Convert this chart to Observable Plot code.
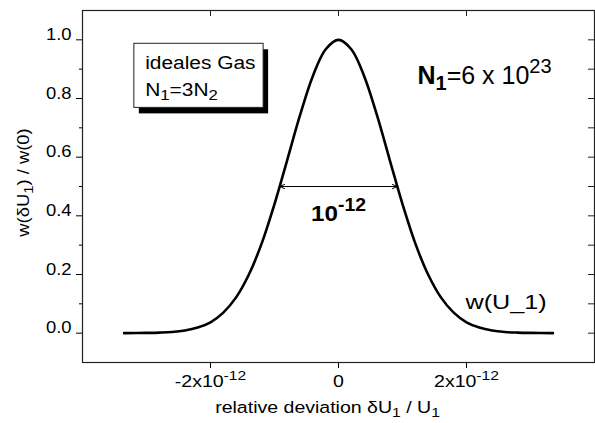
<!DOCTYPE html>
<html><head><meta charset="utf-8">
<script src="https://cdn.jsdelivr.net/npm/d3@7"></script>
<script src="https://cdn.jsdelivr.net/npm/@observablehq/plot@0.6"></script>
<style>
html,body{margin:0;padding:0;background:#fff;}
</style>
</head><body><div id="chart"></div>
<script>
// relative deviation δU1/U1 (in units of 10^-12) and w(δU1)/w(0)
const deviation = [-3.35,-3.0,-2.8,-2.6,-2.4,-2.2,-2.0,-1.8,-1.6,-1.4,-1.2,-1.0,-0.8,-0.6,-0.4,-0.2,0,0.2,0.4,0.6,0.8,1.0,1.2,1.4,1.6,1.8,2.0,2.2,2.4,2.6,2.8,3.0,3.35];
const wRatio = [0.000,0.001,0.002,0.004,0.009,0.019,0.037,0.070,0.122,0.200,0.306,0.440,0.591,0.744,0.877,0.968,1.000,0.968,0.877,0.744,0.591,0.440,0.306,0.200,0.122,0.070,0.037,0.019,0.009,0.004,0.002,0.001,0.000];
const xTickValues = [-2,0,2];
const xTickLabels = ["-2x10^{-12}","0","2x10^{-12}"];
const yTickValues = [0,0.2,0.4,0.6,0.8,1.0];
const yTickLabels = ["0.0","0.2","0.4","0.6","0.8","1.0"];
const yMinorTicks = [0.1,0.3,0.5,0.7,0.9];
const halfWidth = 0.92;
const halfLevel = 0.5;
const widthLabel = "*{10^{-12}}";
const boxLine1 = "ideales Gas";
const boxLine2 = "N_{1}=3N_{2}";
const sizeLabel = "*{N_{1}}=6 x 10^{23}";
const curveLabel = "w(U_1)";
const xTitle = "relative deviation δU_{1} / U_{1}";
const yTitle = "w(δU_{1}) / w(0)";

const data = deviation.map((x, i) => ({x, y: wRatio[i]}));
const arrows = [{x1: 0, x2: -halfWidth, y: halfLevel}, {x1: 0, x2: halfWidth, y: halfLevel}];
const shX = 5 / 64, shY = 6 / 293.33;

const plot = Plot.plot({
  width: 595, height: 423,
  marginLeft: 82, marginRight: 1, marginTop: 10, marginBottom: 61,
  x: {domain: [-4, 4]},
  y: {domain: [-0.1, 1.1]},
  style: {fontFamily: '"Liberation Sans", Arial, sans-serif', fontSize: "16px", color: "#000", background: "#fff"},
  marks: [
    Plot.frame({stroke: "#222", strokeWidth: 1.2}),
    Plot.axisX({ticks: xTickValues, anchor: "bottom", tickSize: 6, tickPadding: 18, tickFormat: d => xTickLabels[xTickValues.indexOf(d)], label: null, fontSize: 17}),
    Plot.axisY({ticks: yTickValues, anchor: "left", tickSize: 6, tickPadding: 5, tickFormat: d => yTickLabels[yTickValues.indexOf(d)], label: null, fontSize: 16}),
    Plot.axisY({ticks: yMinorTicks, anchor: "left", tickSize: 3, tickFormat: () => "", label: null}),
    Plot.tickX(xTickValues, {x: d => d, insetBottom: 346, stroke: "#222"}),
    Plot.tickY([...yTickValues, ...yMinorTicks], {y: d => d, insetLeft: 506, stroke: "#222"}),
    Plot.line(data, {x: "x", y: "y", stroke: "#000", strokeWidth: 2.6, curve: "catmull-rom"}),
    Plot.arrow(arrows, {x1: "x1", x2: "x2", y1: "y", y2: "y", stroke: "#000", strokeWidth: 1, headLength: 8, headAngle: 45}),
    Plot.text([widthLabel], {x: 0, y: 0.384, text: d => d, fontSize: 22, lineAnchor: "bottom", fill: "#000"}),
    // legend box with shadow
    Plot.rect([0], {x1: -3.19 + shX, x2: -1.17 + shX, y1: 0.768 - shY, y2: 0.9865 - shY, fill: "#000"}),
    Plot.rect([0], {x1: -3.19, x2: -1.17, y1: 0.768, y2: 0.9865, fill: "#fff", stroke: "#222", strokeWidth: 1}),
    Plot.text([boxLine1], {x: -3.02, y: 0.899, text: d => d, fontSize: 19, textAnchor: "start", lineAnchor: "bottom", fill: "#000"}),
    Plot.text([boxLine2], {x: -3.02, y: 0.810, text: d => d, fontSize: 19, textAnchor: "start", lineAnchor: "bottom", fill: "#000"}),
    Plot.text([sizeLabel], {x: 1.234, y: 0.851, text: d => d, fontSize: 25, textAnchor: "start", lineAnchor: "bottom", fill: "#000"}),
    Plot.text([curveLabel], {x: 1.984, y: 0.081, text: d => d, fontSize: 21, textAnchor: "start", lineAnchor: "bottom", fill: "#000"}),
    Plot.text([xTitle], {frameAnchor: "bottom", dy: 50, dx: -11, text: d => d, fontSize: 17, textAnchor: "middle", lineAnchor: "bottom", fill: "#000"}),
    Plot.text([yTitle], {frameAnchor: "left", dx: -54, dy: -4, rotate: -90, text: d => d, fontSize: 16, textAnchor: "middle", lineAnchor: "middle", fill: "#000"})
  ]
});
document.getElementById("chart").append(plot);

const SVGNS = "http://www.w3.org/2000/svg";
const stretchOf = new Map([[sizeLabel, 1.0], [widthLabel, 1.1], [boxLine1, 1.1], [boxLine2, 1.1], [curveLabel, 1.2], [xTitle, 1.15]]);

function parseRich(s, bold = false, level = 0) {
  const out = []; let i = 0, buf = "";
  const flush = () => { if (buf) { out.push({t: buf, bold, level}); buf = ""; } };
  while (i < s.length) {
    const c = s[i];
    if ((c === "^" || c === "_" || c === "*") && s[i + 1] === "{") {
      flush();
      let depth = 0, j = i + 1;
      for (; j < s.length; j++) { if (s[j] === "{") depth++; else if (s[j] === "}") { depth--; if (depth === 0) break; } }
      const inner = s.slice(i + 2, j);
      if (c === "*") out.push(...parseRich(inner, true, level));
      else out.push(...parseRich(inner, bold, c === "^" ? level + 1 : level - 1));
      i = j + 1;
    } else { buf += c; i++; }
  }
  flush();
  return out;
}
function richify(svg) {
  svg.querySelectorAll("text").forEach(t => {
    const s = t.textContent;
    if (!/[\^_*]\{/.test(s)) return;
    const fs = parseFloat(getComputedStyle(t).fontSize) || 16;
    const segs = parseRich(s);
    while (t.firstChild) t.removeChild(t.firstChild);
    let cur = 0;
    segs.forEach(sg => {
      const ts = document.createElementNS(SVGNS, "tspan");
      const target = sg.level > 0 ? -0.42 * fs : sg.level < 0 ? 0.24 * fs : 0;
      if (target !== cur) ts.setAttribute("dy", (target - cur).toFixed(2));
      cur = target;
      if (sg.level !== 0) ts.setAttribute("font-size", (fs * 0.8).toFixed(1));
      if (sg.bold) ts.setAttribute("font-weight", "bold");
      ts.textContent = sg.t;
      t.appendChild(ts);
    });
  });
}
function stretch(svg) {
  svg.querySelectorAll("text").forEach(t => {
    const sx = stretchOf.has(t.textContent) ? stretchOf.get(t.textContent) : 1.15;
    if (sx === 1) return;
    const M = t.getCTM(), P = t.parentNode.getCTM();
    if (!M || !P) return;
    const L = P.inverse().multiply(M);
    const x = parseFloat(t.getAttribute("x")) || 0, y = parseFloat(t.getAttribute("y")) || 0;
    t.removeAttribute("x"); t.removeAttribute("y");
    t.setAttribute("transform", `matrix(${L.a},${L.b},${L.c},${L.d},${L.e},${L.f}) translate(${x},${y}) scale(${sx},1)`);
  });
}
stretch(plot);
richify(plot);
</script>
</body></html>
